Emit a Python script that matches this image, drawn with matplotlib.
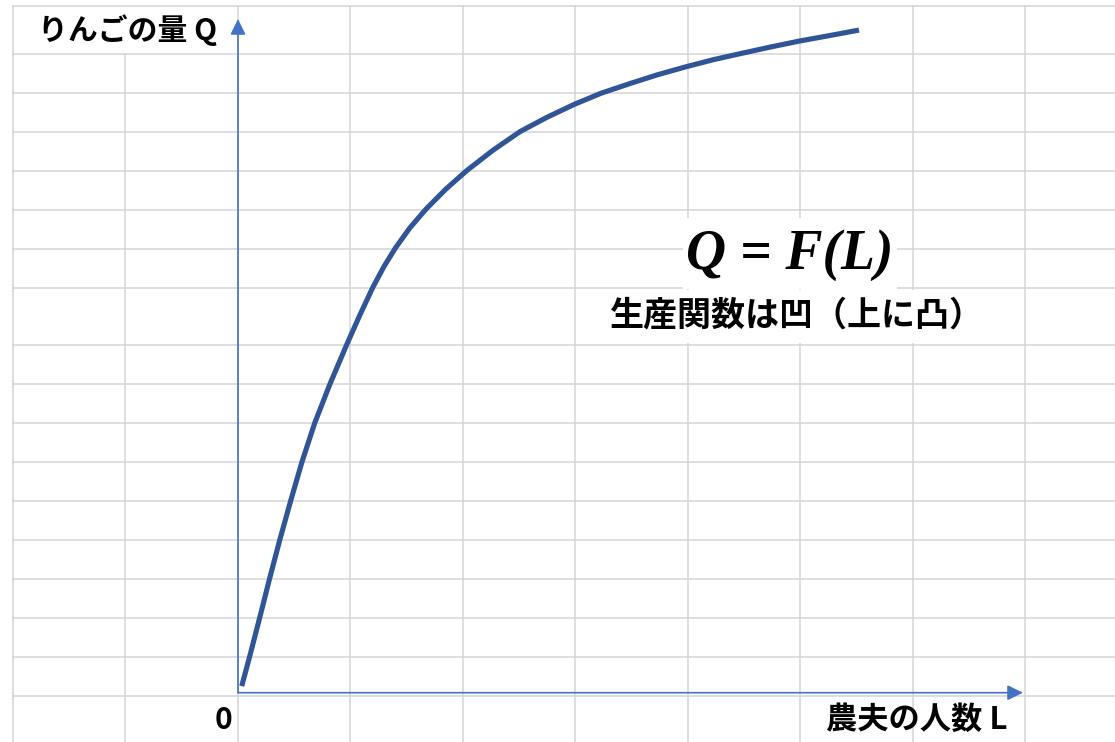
import matplotlib
matplotlib.use("Agg")
import matplotlib.pyplot as plt
from matplotlib.transforms import Affine2D
from matplotlib.patches import Rectangle, FancyArrowPatch
from matplotlib.lines import Line2D

# production function Q = F(L)
# (L in grid columns, Q in grid rows, origin at the axis corner)
labor = [0.033, 0.107, 0.196, 0.284, 0.373, 0.471, 0.569, 0.682, 0.818, 0.969,
         1.084, 1.200, 1.298, 1.400, 1.529, 1.671, 1.849, 2.036, 2.267, 2.507,
         2.747, 2.987, 3.227, 3.484, 3.733, 3.991, 4.231, 4.462, 4.729, 4.996,
         5.262, 5.520]
output = [0.17, 0.97, 1.97, 2.98, 3.96, 4.98, 5.96, 6.96, 7.97, 9.00,
          9.75, 10.47, 11.00, 11.48, 12.00, 12.48, 13.00, 13.48, 14.00, 14.48,
          14.85, 15.18, 15.47, 15.72, 15.95, 16.16, 16.34, 16.49, 16.66, 16.82,
          16.96, 17.10]

y_label = "りんごの量 Q"
x_label = "農夫の人数 L"
origin_label = "0"
formula = "Q = F(L)"
note = "生産関数は凹（上に凸）"

W, H = 1115, 742
JP = ["Noto Sans CJK JP", "DejaVu Sans"]

fig = plt.figure(figsize=(W / 100, H / 100), dpi=100)
ax = fig.add_axes([0, 0, 1, 1])
ax.axis("off")

# data scale: origin at the axes corner, one column / one row per unit
x0, y0 = 238, 692.7
col_w, row_h = 112.5, 38.75
ax.set_xlim(-x0 / col_w, (W - x0) / col_w)
ax.set_ylim((y0 - H) / row_h, y0 / row_h)

# pixel coordinates (top-left origin) for the sheet background
pix = Affine2D().scale(1 / W, -1 / H).translate(0, 1) + fig.transFigure

grid_col = "#d4d4d4"
col_x = [12.7 + 112.5 * k for k in range(10)]
row_y = [5.7, 53.5, 93, 132, 171, 210, 248.7, 288, 344.7, 383.7, 422.7,
         462, 500.7, 540, 578.7, 617.7, 656.7, 695.7]
for y in row_y:
    ax.add_line(Line2D([col_x[0], W], [y, y], transform=pix, color=grid_col,
                       lw=1.1, zorder=1, clip_on=False))
for i, x in enumerate(col_x):
    top = 53.5 if i == 1 else row_y[0]   # merged label cell on the top row
    ax.add_line(Line2D([x, x], [top, H], transform=pix, color=grid_col,
                       lw=1.1, zorder=1, clip_on=False))

# white text boxes hiding the grid
for bx, by, bw, bh in [(683, 218, 214, 71), (600, 290, 380, 53)]:
    ax.add_patch(Rectangle((bx, by), bw, bh, transform=pix, facecolor="white",
                           edgecolor="none", zorder=2, clip_on=False))

# axis arrows
axis_col = "#4472C4"
for end in [(238, 19), (1023, 692.7)]:
    ax.add_patch(FancyArrowPatch((238, 692.7), end, transform=pix,
                                 arrowstyle="-|>,head_length=9.4,head_width=4.6",
                                 mutation_scale=1, color=axis_col, lw=1.2,
                                 shrinkA=0, shrinkB=0, zorder=3, clip_on=False))

# the curve
ax.plot(labor, output, color="#2F5597", lw=3.7, solid_capstyle="butt",
        solid_joinstyle="round", zorder=4)

# texts
ax.text(127.5, 30, y_label, transform=pix, ha="center", va="center",
        fontsize=21.5, fontweight="bold", family=JP, zorder=5)
ax.text(223.5, 720, origin_label, transform=pix, ha="center", va="center",
        fontsize=21.5, fontweight="bold", family=JP, zorder=5)
ax.text(917, 720, x_label, transform=pix, ha="center", va="center",
        fontsize=22.5, fontweight="bold", family=JP, zorder=5)
ax.text(790, 255, formula, transform=pix, ha="center", va="center",
        fontsize=40, fontweight="bold", fontstyle="italic",
        family="Liberation Serif", zorder=5)
ax.text(797, 315, note, transform=pix, ha="center", va="center",
        fontsize=24.5, fontweight="bold", family=JP, zorder=5)

fig.savefig("out.png", dpi=100, facecolor="white")
